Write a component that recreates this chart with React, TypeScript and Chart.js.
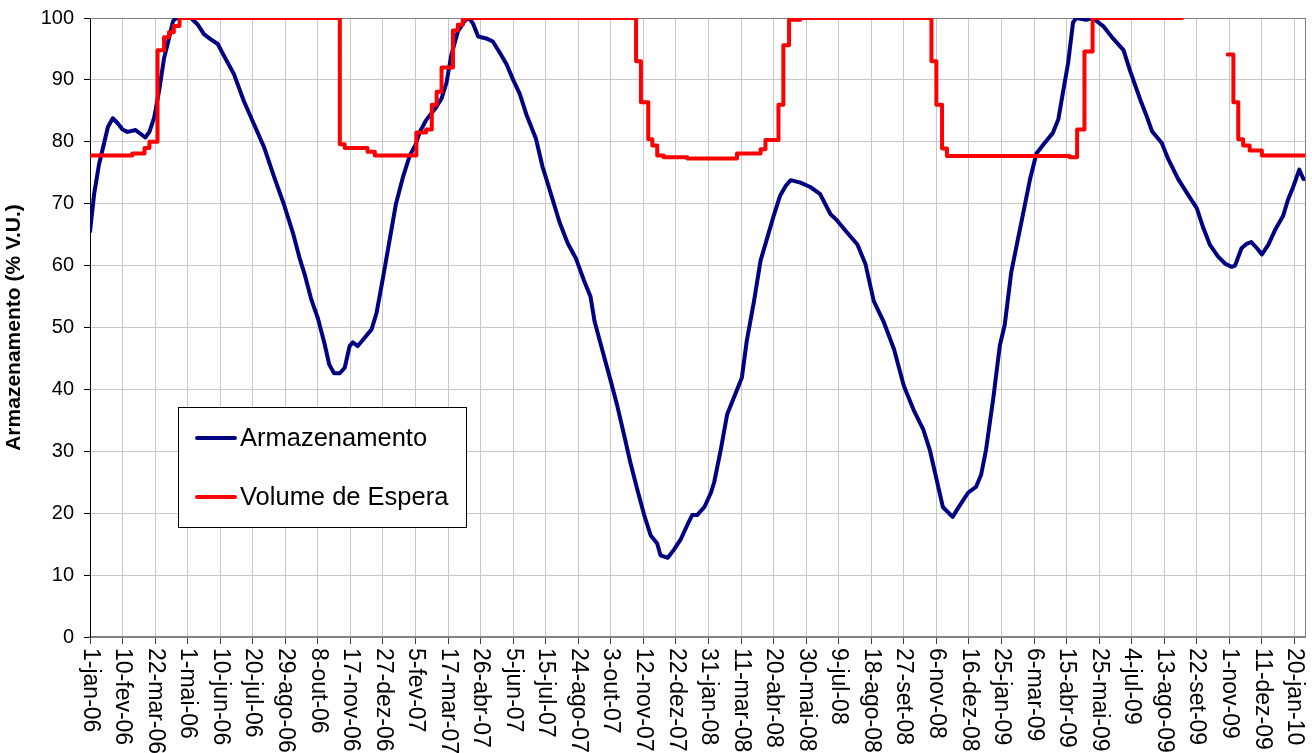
import React, { useEffect, useRef } from 'react';
import { Chart, registerables } from 'chart.js';

Chart.register(...registerables);

const FONT = "'Liberation Sans', Arial, Helvetica, sans-serif";

// x-axis: day index counted from 1-jan-06
const tickDays = [0, 40, 80, 120, 160, 200, 240, 280, 320, 360, 400, 440, 480, 520, 560, 600, 640, 680, 720, 760, 800, 840, 880, 920, 960, 1000, 1040, 1080, 1120, 1160, 1200, 1240, 1280, 1320, 1360, 1400, 1440, 1480];
const tickLabels = ['1-jan-06', '10-fev-06', '22-mar-06', '1-mai-06', '10-jun-06', '20-jul-06', '29-ago-06', '8-out-06', '17-nov-06', '27-dez-06', '5-fev-07', '17-mar-07', '26-abr-07', '5-jun-07', '15-jul-07', '24-ago-07', '3-out-07', '12-nov-07', '22-dez-07', '31-jan-08', '11-mar-08', '20-abr-08', '30-mai-08', '9-jul-08', '18-ago-08', '27-set-08', '6-nov-08', '16-dez-08', '25-jan-09', '6-mar-09', '15-abr-09', '25-mai-09', '4-jul-09', '13-ago-09', '22-set-09', '1-nov-09', '11-dez-09', '20-jan-10'];
const lastDay = 1493;

const yTicks = [0, 10, 20, 30, 40, 50, 60, 70, 80, 90, 100];

// Armazenamento (% V.U.)
const armDays = [0, 5, 11, 17, 22, 28, 34, 40, 46, 56, 62, 68, 73, 79, 85, 91, 97, 102, 106, 124, 132, 140, 148, 157, 165, 177, 189, 201, 214, 226, 238, 250, 258, 264, 272, 280, 288, 294, 300, 307, 313, 319, 323, 329, 336, 346, 352, 360, 368, 376, 385, 393, 400, 405, 413, 425, 432, 438, 444, 452, 460, 466, 471, 477, 487, 495, 504, 512, 520, 528, 536, 548, 556, 562, 570, 577, 587, 597, 607, 615, 620, 628, 640, 648, 656, 664, 673, 681, 689, 697, 701, 710, 718, 726, 734, 740, 746, 755, 763, 767, 775, 783, 791, 801, 807, 816, 824, 832, 840, 848, 855, 861, 873, 885, 897, 910, 918, 930, 943, 953, 963, 975, 988, 1000, 1012, 1024, 1032, 1040, 1048, 1060, 1069, 1079, 1089, 1095, 1101, 1110, 1118, 1124, 1132, 1140, 1146, 1155, 1163, 1173, 1183, 1190, 1196, 1202, 1208, 1212, 1224, 1232, 1245, 1257, 1270, 1278, 1286, 1292, 1298, 1305, 1317, 1325, 1337, 1350, 1360, 1368, 1376, 1386, 1395, 1403, 1407, 1415, 1421, 1427, 1434, 1440, 1448, 1456, 1466, 1472, 1479, 1486, 1491, 1493];
const armValues = [65.5, 71.5, 76.3, 79.6, 82.4, 83.8, 83.0, 82.0, 81.6, 81.9, 81.3, 80.7, 81.6, 84.0, 88.3, 93.5, 96.7, 99.5, 100, 100, 99.0, 97.4, 96.6, 95.8, 93.8, 90.9, 86.6, 83.0, 79.1, 74.4, 70.0, 65.0, 61.0, 58.5, 54.5, 51.5, 47.5, 44.0, 42.6, 42.6, 43.5, 47.0, 47.6, 47.0, 48.1, 49.7, 52.3, 58.0, 64.0, 70.0, 74.5, 77.8, 79.5, 81.5, 83.5, 85.5, 87.0, 89.5, 94.0, 97.8, 99.5, 100, 99.0, 97.0, 96.7, 96.2, 94.3, 92.5, 90.0, 87.8, 84.5, 80.5, 76.0, 73.5, 70.0, 67.0, 63.6, 61.2, 57.6, 55.0, 51.0, 47.1, 41.3, 37.3, 32.8, 28.2, 23.6, 19.7, 16.4, 15.1, 13.2, 12.8, 14.2, 15.8, 18.1, 19.7, 19.7, 21.0, 23.3, 25.0, 30.2, 36.0, 38.6, 41.9, 47.8, 54.3, 60.8, 64.4, 68.0, 71.3, 72.9, 73.8, 73.4, 72.7, 71.6, 68.3, 67.3, 65.4, 63.4, 60.2, 54.3, 51.0, 46.5, 40.6, 36.7, 33.5, 30.2, 25.6, 21.0, 19.4, 21.3, 23.3, 24.3, 26.2, 30.2, 38.6, 47.1, 50.4, 58.9, 64.1, 68.0, 73.9, 78.1, 79.8, 81.4, 83.7, 88.3, 92.8, 99.3, 100, 99.7, 100, 98.7, 96.7, 94.8, 91.5, 88.5, 86.3, 84.3, 81.7, 79.8, 77.2, 74.0, 71.3, 69.3, 66.1, 63.4, 61.5, 60.3, 59.8, 60.0, 62.8, 63.5, 63.8, 62.8, 61.8, 63.4, 65.7, 68.0, 70.6, 72.9, 75.5, 74.0, 74.0];

// Volume de Espera (% V.U.), step values (each value holds from its day until the next change); null = no data
const esperaDays = [0, 52, 67, 73, 83, 91, 97, 103, 110, 307, 313, 341, 350, 401, 413, 420, 426, 432, 446, 452, 458, 462, 671, 677, 686, 691, 697, 705, 734, 795, 824, 830, 846, 852, 859, 873, 1034, 1040, 1047, 1053, 1204, 1213, 1222, 1232, 1342, 1343, 1398, 1405, 1411, 1417, 1425, 1440, 1493];
const esperaValues = [77.8, 78.1, 79.0, 80.0, 94.8, 96.9, 97.7, 98.7, 100, 79.6, 79.0, 78.4, 77.8, 81.5, 82.0, 86.0, 88.1, 92.0, 98.0, 98.9, 99.7, 100, 93.0, 86.4, 80.4, 79.4, 77.8, 77.5, 77.3, 78.1, 78.8, 80.3, 86.0, 95.6, 99.7, 100, 93.0, 86.0, 78.9, 77.7, 77.5, 82.0, 94.6, 100, 100, null, 94.1, 86.4, 80.4, 79.4, 78.6, 77.8, 77.8];

const seriesNames = ['Armazenamento', 'Volume de Espera'];
const seriesColors = ['#000080', '#ff0000'];

const framePlugin = {
  id: 'frame',
  beforeDatasetsDraw(chart: any) {
    const { ctx, chartArea } = chart;
    ctx.save();
    ctx.strokeStyle = '#808080';
    ctx.lineWidth = 1;
    ctx.beginPath();
    ctx.moveTo(chartArea.left, Math.round(chartArea.top) + 0.5);
    ctx.lineTo(chartArea.right, Math.round(chartArea.top) + 0.5);
    ctx.moveTo(Math.round(chartArea.right) + 0.5, chartArea.top);
    ctx.lineTo(Math.round(chartArea.right) + 0.5, chartArea.bottom);
    ctx.stroke();
    ctx.restore();
  },
};

const xLabelPlugin = {
  id: 'xLabels',
  afterDraw(chart: any) {
    const { ctx, chartArea } = chart;
    const xs = chart.scales.x;
    ctx.save();
    ctx.fillStyle = '#000';
    ctx.font = `23px ${FONT}`;
    ctx.textAlign = 'left';
    ctx.textBaseline = 'middle';
    tickDays.forEach((d, i) => {
      const x = xs.getPixelForValue(d);
      ctx.save();
      ctx.translate(x, chartArea.bottom + 11);
      ctx.rotate(Math.PI / 2);
      ctx.fillText(tickLabels[i], 0, 0);
      ctx.restore();
    });
    ctx.restore();
  },
};

const legendPlugin = {
  id: 'legendBox',
  afterDraw(chart: any) {
    const { ctx } = chart;
    const bx = 178.5, by = 407.5, bw = 288, bh = 120;
    ctx.save();
    ctx.fillStyle = '#ffffff';
    ctx.fillRect(bx, by, bw, bh);
    ctx.strokeStyle = '#000';
    ctx.lineWidth = 1;
    ctx.strokeRect(bx, by, bw, bh);
    ctx.font = `25.5px ${FONT}`;
    ctx.textBaseline = 'middle';
    ctx.textAlign = 'left';
    const rows = [438, 497];
    seriesNames.forEach((name, i) => {
      const y = rows[i];
      ctx.strokeStyle = seriesColors[i];
      ctx.lineWidth = 4;
      ctx.lineCap = 'round';
      ctx.beginPath();
      ctx.moveTo(197, y);
      ctx.lineTo(235, y);
      ctx.stroke();
      ctx.fillStyle = '#000';
      ctx.fillText(name, 240, y + 1);
    });
    ctx.restore();
  },
};

export default function App() {
  const ref = useRef<HTMLCanvasElement>(null);

  useEffect(() => {
    const canvas = ref.current;
    if (!canvas) return;
    const armData = armDays.map((d, i) => ({ x: d, y: armValues[i] }));
    const espData = esperaDays.map((d, i) => ({ x: d, y: esperaValues[i] }));

    const chart = new Chart(canvas, {
      type: 'line',
      data: {
        datasets: [
          {
            label: seriesNames[0],
            data: armData,
            borderColor: seriesColors[0],
            backgroundColor: seriesColors[0],
            borderWidth: 4,
            pointRadius: 0,
            tension: 0,
            borderJoinStyle: 'round',
            borderCapStyle: 'round',
            order: 1,
          },
          {
            label: seriesNames[1],
            data: espData,
            borderColor: seriesColors[1],
            backgroundColor: seriesColors[1],
            borderWidth: 4,
            pointRadius: 0,
            stepped: 'before',
            spanGaps: false,
            borderJoinStyle: 'round',
            borderCapStyle: 'round',
            order: 0,
          },
        ],
      } as any,
      options: {
        responsive: false,
        animation: false,
        devicePixelRatio: 1,
        layout: { padding: { left: 0, top: 18, right: 7, bottom: 0 } },
        plugins: {
          legend: { display: false },
          tooltip: { enabled: false },
          title: { display: false },
        },
        scales: {
          x: {
            type: 'linear',
            min: 0,
            max: lastDay,
            afterBuildTicks: (s: any) => {
              s.ticks = tickDays.map((v) => ({ value: v }));
            },
            afterFit: (s: any) => {
              s.height = 116;
              s.paddingLeft = 0;
              s.paddingRight = 0;
            },
            ticks: { display: false },
            grid: { color: '#c8c8c8', lineWidth: 1, tickLength: 7, tickColor: '#404040', drawTicks: true },
            border: { color: '#808080', width: 2 },
          },
          y: {
            type: 'linear',
            min: 0,
            max: 100,
            afterBuildTicks: (s: any) => {
              s.ticks = yTicks.map((v) => ({ value: v }));
            },
            afterFit: (s: any) => {
              s.width = 90;
              s.paddingTop = 0;
              s.paddingBottom = 0;
            },
            ticks: { color: '#000', font: { size: 20, family: FONT }, padding: 10 },
            grid: { color: '#c8c8c8', lineWidth: 1, tickLength: 6, tickColor: '#000' },
            border: { color: '#000', width: 1 },
            title: {
              display: true,
              text: 'Armazenamento (% V.U.)',
              color: '#000',
              font: { size: 21, weight: 'bold', family: FONT },
              padding: { top: 2, bottom: 0 },
            },
          },
        },
      } as any,
      plugins: [framePlugin, xLabelPlugin, legendPlugin],
    });
    return () => chart.destroy();
  }, []);

  return (
    <div style={{ position: 'fixed', left: 0, top: 0, width: 1312, height: 753, background: '#fff' }}>
      <canvas ref={ref} width={1312} height={753} style={{ display: 'block', width: 1312, height: 753 }} />
    </div>
  );
}
